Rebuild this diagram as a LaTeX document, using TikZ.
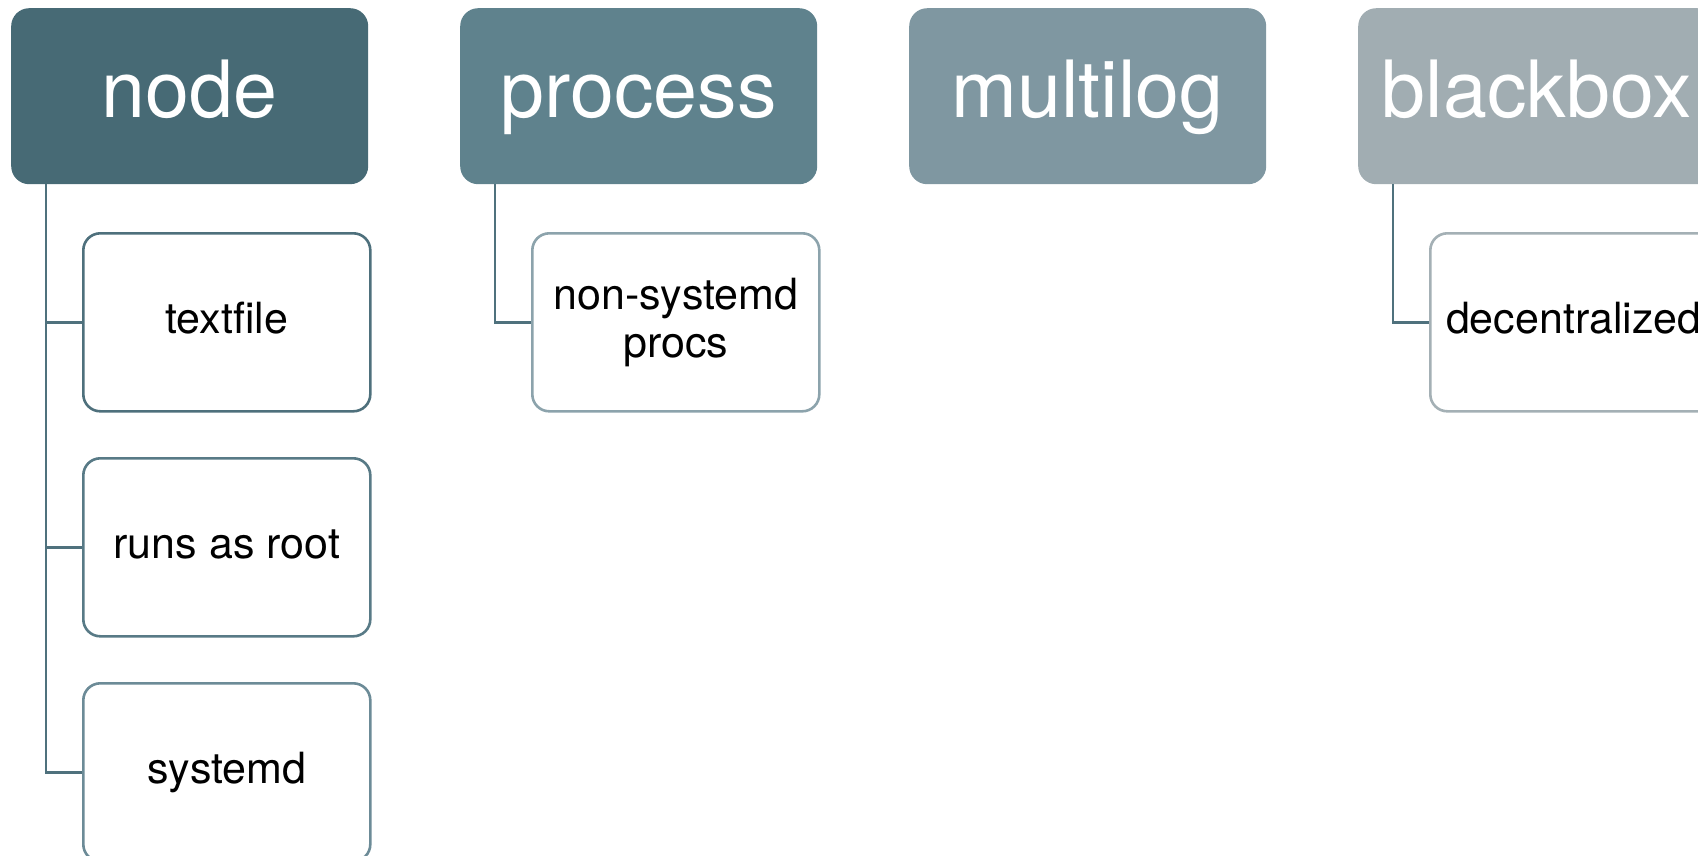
\documentclass[tikz,border=0pt]{standalone}
\usepackage{fontspec}
\setmainfont{TeX Gyre Heros}
\definecolor{hdA}{HTML}{476A75}
\definecolor{hdB}{HTML}{5F828D}
\definecolor{hdC}{HTML}{7F97A1}
\definecolor{hdD}{HTML}{A1ADB2}
\definecolor{linkc}{HTML}{4F717D}
\definecolor{bdA}{HTML}{4E707C}
\definecolor{bdB}{HTML}{587A86}
\definecolor{bdC}{HTML}{6C8B97}
\definecolor{bdD}{HTML}{8CA3AC}
\definecolor{bdE}{HTML}{A4B0B5}
\tikzset{
  header/.style={rectangle, rounded corners=18pt, anchor=north west,
    minimum width=357pt, minimum height=176pt, inner sep=0pt,
    fill=#1, draw=none, text=white,
    font=\fontsize{79}{90}\selectfont, text height=60pt, text depth=18pt},
  childbox/.style={rectangle, rounded corners=17pt, anchor=north west,
    minimum width=287pt, minimum height=178pt, inner sep=0pt,
    fill=white, draw=#1, line width=2.6pt, align=center,
    font=\fontsize{43}{48}\selectfont},
  oneline/.style={text height=32pt, text depth=9pt},
  link/.style={draw=linkc, line width=2.8pt}
}
\begin{document}
\begin{tikzpicture}[x=1pt, y=-1pt]
\useasboundingbox (0,0) rectangle (1698,855);
\clip (0,0) rectangle (1698,855);

% top-level headers
\node[header=hdA] (hnode) at (11,8) {node};
\node[header=hdB] (hproc) at (460,8) {process};
\node[header=hdC] (hmulti) at (909,8) {multilog};
\node[header=hdD] (hblack) at (1358,8) {blackbox};

% children
\node[childbox=bdA, oneline] (ctext) at (82,232) {textfile};
\node[childbox=bdB, oneline] (croot) at (82,457) {runs as root};
\node[childbox=bdC, oneline] (csysd) at (82,682) {systemd};
\node[childbox=bdD] (cnonsys) at (531,232) {non-systemd\\procs};
\node[childbox=bdE, oneline] (cdecent) at (1429,232) {decentralized};

% connectors
\path[link] ([xshift=35pt]hnode.south west) |- (csysd.west);
\path[link] ([xshift=35pt]hnode.south west) |- (croot.west);
\path[link] ([xshift=35pt]hnode.south west) |- (ctext.west);
\path[link] ([xshift=35pt]hproc.south west) |- (cnonsys.west);
\path[link] ([xshift=35pt]hblack.south west) |- (cdecent.west);
\end{tikzpicture}
\end{document}
